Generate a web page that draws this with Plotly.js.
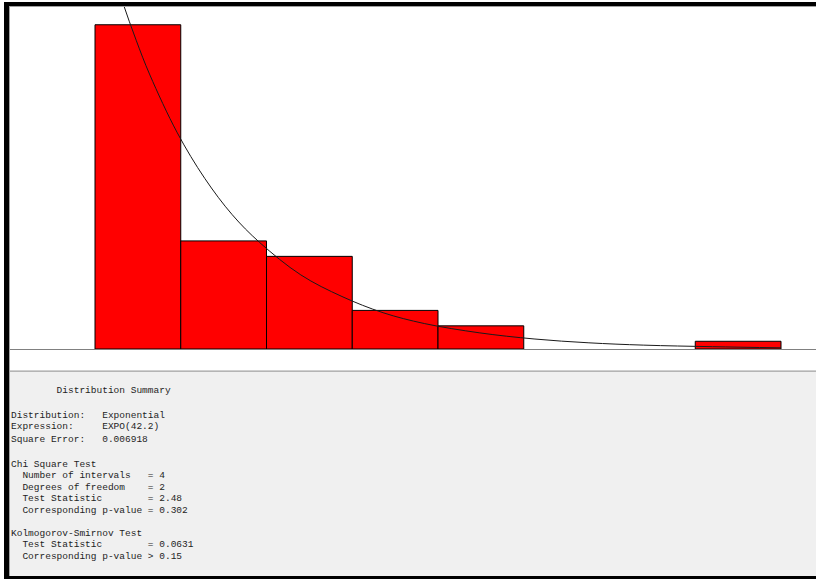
<!DOCTYPE html>
<html>
<head>
<meta charset="utf-8">
<script src="https://cdn.plot.ly/plotly-3.0.1.min.js"></script>
<style>html,body{margin:0;padding:0;background:#fff;}#chart{width:816px;height:579px;}</style>
</head>
<body>
<div id="chart"></div>
<script>
// Histogram bins (data units) and observed counts
const binEdges = [0, 31.25, 62.5, 93.75, 125, 156.25, 187.5, 218.75, 250];
const counts = [42, 14, 12, 5, 3, 0, 0, 1];

// Fitted EXPO(42.2) curve (counts scale)
const curveX = [0, 5, 10, 15, 20, 30, 40, 50, 60, 75, 90, 105, 120, 140, 160, 180, 200, 225, 250];
const curveY = [57.0, 50.6, 45.0, 40.0, 35.5, 28.0, 22.1, 17.4, 13.8, 9.6, 6.8, 4.7, 3.3, 2.1, 1.3, 0.8, 0.5, 0.3, 0.15];

// Summary panel text lines
const summaryLines = [
  "        Distribution Summary",
  "Distribution:   Exponential",
  "Expression:     EXPO(42.2)",
  "Square Error:   0.006918",
  "Chi Square Test",
  "  Number of intervals   = 4",
  "  Degrees of freedom    = 2",
  "  Test Statistic        = 2.48",
  "  Corresponding p-value = 0.302",
  "Kolmogorov-Smirnov Test",
  "  Test Statistic        = 0.0631",
  "  Corresponding p-value > 0.15"
];
const summaryLineY = [391, 415, 427, 439, 464, 475.5, 487, 498.5, 510, 533, 544.5, 556];

// layout geometry (pixels)
const W = 816, H = 579, L = 10, T = 6, B = 349;
const plotW = W - L, plotH = B - T;
const px = X => (X - L) / plotW;
const py = Y => (B - Y) / plotH;

const barX = [], barY = [], barW = [];
for (let i = 0; i < counts.length; i++) {
  if (counts[i] > 0) {
    barX.push((binEdges[i] + binEdges[i + 1]) / 2);
    barY.push(counts[i]);
    barW.push(binEdges[i + 1] - binEdges[i]);
  }
}

const traces = [
  {
    type: 'bar', x: barX, y: barY, width: barW,
    marker: {color: '#ff0000', line: {color: '#000000', width: 1}},
    hoverinfo: 'skip'
  },
  {
    type: 'scatter', mode: 'lines', x: curveX, y: curveY,
    line: {color: '#1a1a1a', width: 1, shape: 'spline'},
    hoverinfo: 'skip'
  }
];

const annotations = summaryLines.map((t, i) => ({
  xref: 'paper', yref: 'paper', x: px(8.5), y: py(summaryLineY[i]),
  xanchor: 'left', yanchor: 'middle', showarrow: false,
  text: t.replace(/ /g, '\u00A0'),
  font: {family: 'Liberation Mono, Courier New, monospace', size: 9.5, color: '#1e1e1e'}
}));

const shapes = [
  // gray summary panel
  {type: 'rect', xref: 'paper', yref: 'paper', x0: px(9), x1: px(816), y0: py(371), y1: py(576),
   fillcolor: '#f0f0f0', line: {width: 0}, layer: 'below'},
  {type: 'line', xref: 'paper', yref: 'paper', x0: px(9), x1: px(816), y0: py(371.2), y1: py(371.2),
   line: {color: '#a0a0a0', width: 1.2}},
  // inner gray edges
  {type: 'line', xref: 'paper', yref: 'paper', x0: px(9), x1: px(816), y0: py(6.5), y1: py(6.5),
   line: {color: '#a0a0a0', width: 1}},
  {type: 'line', xref: 'paper', yref: 'paper', x0: px(9.5), x1: px(9.5), y0: py(6), y1: py(576),
   line: {color: '#a0a0a0', width: 1}},
  // black frame
  {type: 'rect', xref: 'paper', yref: 'paper', x0: px(4), x1: px(816), y0: py(2), y1: py(6),
   fillcolor: '#000000', line: {width: 0}},
  {type: 'rect', xref: 'paper', yref: 'paper', x0: px(4), x1: px(9), y0: py(2), y1: py(579),
   fillcolor: '#000000', line: {width: 0}},
  {type: 'rect', xref: 'paper', yref: 'paper', x0: px(4), x1: px(816), y0: py(576), y1: py(579),
   fillcolor: '#000000', line: {width: 0}}
];

// x axis: bin start 0 at px 95, 250 at px 781
const xScale = (781 - 95) / 250;
const xMin = -(95 - L) / xScale, xMax = (W - 95) / xScale;
const yMax = plotH / 7.72;

const layout = {
  width: W, height: H,
  margin: {l: L, r: 0, t: T, b: H - B, pad: 0},
  paper_bgcolor: '#ffffff', plot_bgcolor: '#ffffff',
  showlegend: false, bargap: 0,
  xaxis: {range: [xMin, xMax], showgrid: false, zeroline: false, showticklabels: false, ticks: '',
          showline: true, linecolor: '#808080', linewidth: 1, fixedrange: true},
  yaxis: {range: [0, yMax], showgrid: false, zeroline: false, showticklabels: false, ticks: '',
          showline: false, fixedrange: true},
  shapes: shapes,
  annotations: annotations
};

Plotly.newPlot('chart', traces, layout, {displayModeBar: false, staticPlot: true});
</script>
</body>
</html>
